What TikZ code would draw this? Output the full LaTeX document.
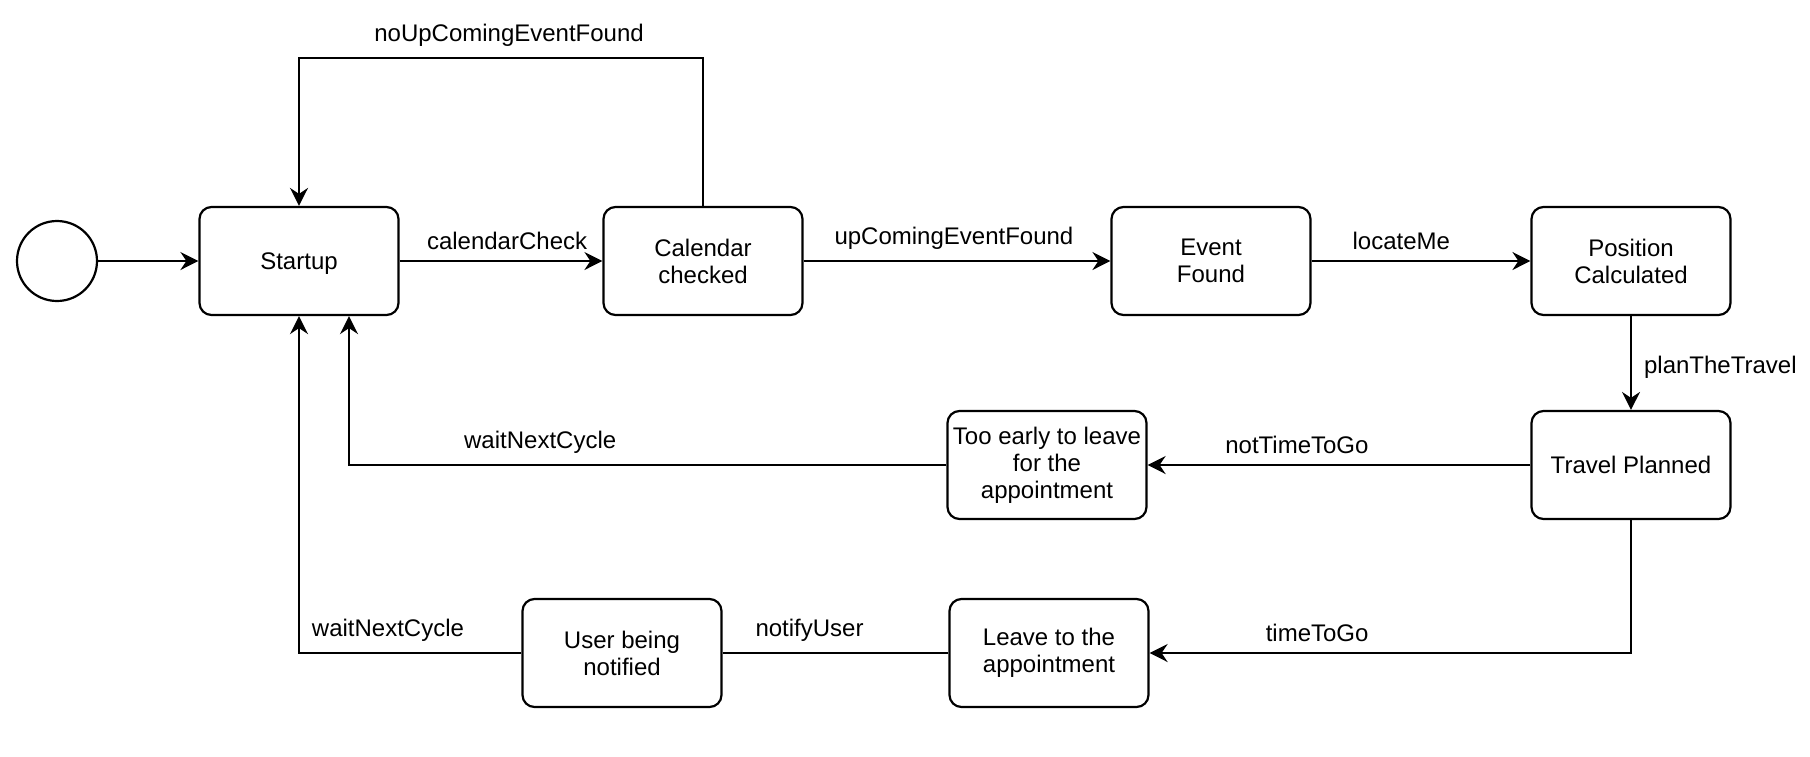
\documentclass[tikz,border=0pt]{standalone}
\usepackage{fontspec}
\setmainfont{Liberation Sans}
\usetikzlibrary{arrows.meta}

\begin{document}
\begin{tikzpicture}[x=0.5pt,y=-0.5pt,
		state/.style={rectangle,draw,rounded corners=6pt,minimum width=99.5pt,minimum height=54pt,inner sep=2pt,align=center,font=\fontsize{12pt}{13.5pt}\selectfont},
		init/.style={circle,draw,minimum size=40pt,inner sep=0pt},
		lbl/.style={inner sep=5pt,font=\fontsize{12pt}{13.5pt}\selectfont},
		line width=1.1pt,
		>={Stealth[length=9pt,width=9pt,inset=3pt]}]
	\useasboundingbox (0,0) rectangle (1810,756);
	%% define states
	\node (init) at (57,261) [init] {};
	\node (start) at (299,261) [state,text depth=0pt] {Startup};
	\node (cal) at (703,261) [state] {Calendar\\checked};
	\node (event) at (1211,261) [state] {Event\\Found};
	\node (pos) at (1631,261) [state] {Position\\Calculated};
	\node (trav) at (1631,465) [state] {Travel Planned};
	\node (early) at (1047,465) [state] {Too early to leave\\for the\\appointment};
	\node (leave) at (1049,653) [state] {Leave to the\\appointment};
	\node (user) at (622,653) [state] {User being\\notified};
	%% define transitions
	\draw[->] (init) -- (start);
	\draw[->] (start) -- (cal) node[lbl,above,pos=0.53] (lcal) {calendarCheck};
	\draw[->] (cal.north) -- ++(0,-148) -| node[lbl,above,pos=0.24] (lnoup) {noUpComingEventFound} (start.north);
	\draw[->] (cal) -- (event) node[lbl,above,pos=0.49] (lup) {upComingEventFound};
	\draw[->] (event) -- (pos) node[lbl,above,pos=0.41] (lloc) {locateMe};
	\draw[->] (pos) -- (trav) node[lbl,right,midway,xshift=1pt,yshift=-2pt] (lplan) {planTheTravel};
	\draw[->] (trav) -- (early) node[lbl,above,pos=0.61] (lnot) {notTimeToGo};
	\draw[->] (early.west) -| node[lbl,above,pos=0.34] (lwait1) {waitNextCycle} ([xshift=25pt]start.south);
	\draw[->] (trav.south) |- node[lbl,above,pos=0.826] (ltime) {timeToGo} (leave.east);
	\draw (user.east) -- (leave.west) node[lbl,above,pos=0.385] (lnotify) {notifyUser};
	\draw[->] (user.west) -| node[lbl,above,pos=0.30] (lwait2) {waitNextCycle} (start.south);
\end{tikzpicture}
\end{document}
